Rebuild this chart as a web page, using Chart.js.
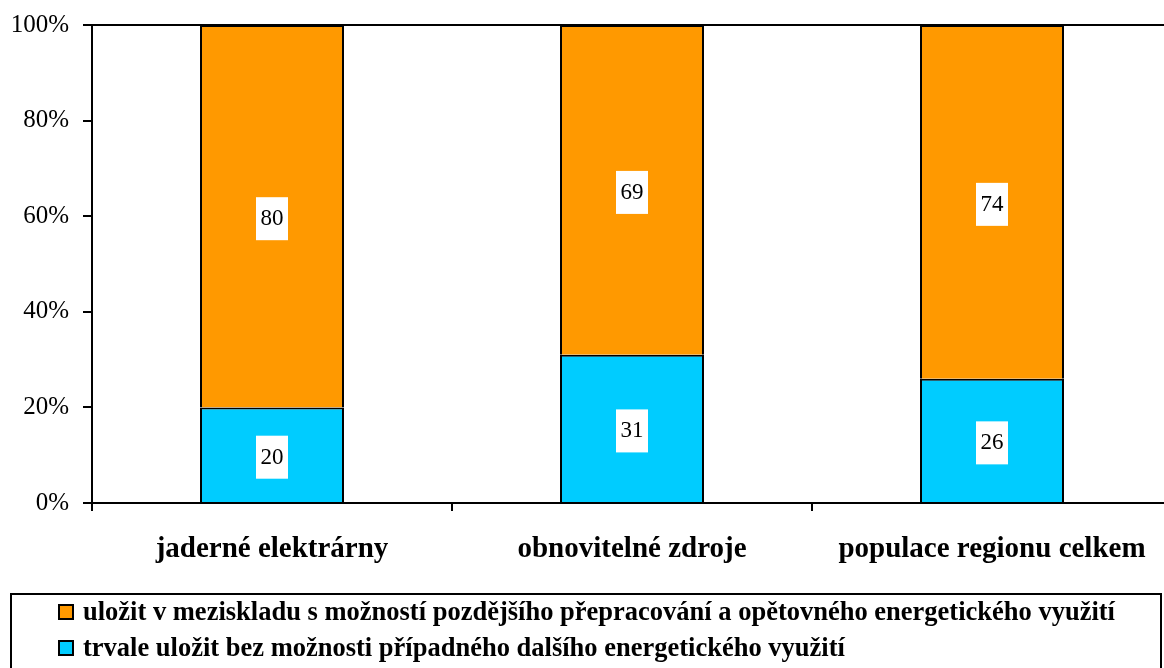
<!DOCTYPE html>
<html>
<head>
<meta charset="utf-8">
<script src="https://cdn.jsdelivr.net/npm/chart.js@4.4.1/dist/chart.umd.min.js"></script>
<style>
  html, body { margin: 0; padding: 0; background: #fff; overflow: hidden; }
  #wrap { width: 1180px; height: 668px; }
</style>
</head>
<body>
<div id="wrap"><canvas id="chart"></canvas></div>
<script>
const categories = ['jaderné elektrárny', 'obnovitelné zdroje', 'populace regionu celkem'];
const permanent = [20, 31, 26];
const interim = [80, 69, 74];
const yTicks = [0, 20, 40, 60, 80, 100];

const serif = '"Liberation Serif", "Times New Roman", serif';

// white boxes with the value in each segment
const valueLabels = {
    id: 'valueLabels',
    afterDatasetsDraw(chart) {
        const ctx = chart.ctx;
        ctx.save();
        ctx.font = '23px ' + serif;
        ctx.textAlign = 'center';
        ctx.textBaseline = 'middle';
        chart.data.datasets.forEach((ds, i) => {
            chart.getDatasetMeta(i).data.forEach((bar, j) => {
                const cy = (bar.y + bar.base) / 2 + 2;
                ctx.fillStyle = '#fff';
                ctx.fillRect(bar.x - 16, cy - 21, 32, 43);
                ctx.fillStyle = '#000';
                ctx.fillText(String(ds.data[j]), bar.x, cy + 1);
            });
        });
        ctx.restore();
    }
};

// top border line and the boxed legend below the chart
const frameAndLegend = {
    id: 'frameAndLegend',
    afterDraw(chart) {
        const ctx = chart.ctx;
        const a = chart.chartArea;
        ctx.save();
        ctx.strokeStyle = '#000';
        ctx.lineWidth = 2;
        ctx.beginPath();
        ctx.moveTo(a.left, a.top);
        ctx.lineTo(a.right, a.top);
        ctx.stroke();

        ctx.strokeRect(11, 594, 1150, 100);

        const items = chart.data.datasets.slice().reverse();
        ctx.font = 'bold 26.5px ' + serif;
        ctx.textBaseline = 'middle';
        ctx.textAlign = 'left';
        items.forEach((ds, k) => {
            const y = 612 + k * 36;
            ctx.fillStyle = ds.backgroundColor;
            ctx.fillRect(59, y - 7, 14, 14);
            ctx.lineWidth = 2;
            ctx.strokeRect(59, y - 7, 14, 14);
            ctx.fillStyle = '#000';
            ctx.fillText(ds.label, 83, y + 1);
        });
        ctx.restore();
    }
};

new Chart(document.getElementById('chart'), {
    type: 'bar',
    data: {
        labels: categories,
        datasets: [
            {
                label: 'trvale uložit bez možnosti případného dalšího energetického využití',
                data: permanent,
                backgroundColor: '#00CCFF',
                borderColor: '#000',
                borderWidth: 2,
                categoryPercentage: 1,
                barPercentage: 0.4
            },
            {
                label: 'uložit v meziskladu s možností pozdějšího přepracování a opětovného energetického využití',
                data: interim,
                backgroundColor: '#FF9900',
                borderColor: '#000',
                borderWidth: 2,
                categoryPercentage: 1,
                barPercentage: 0.4
            }
        ]
    },
    options: {
        responsive: true,
        maintainAspectRatio: false,
        animation: false,
        layout: { padding: { top: 0, right: 8, left: 0, bottom: 0 } },
        plugins: {
            legend: { display: false },
            tooltip: { enabled: false }
        },
        scales: {
            x: {
                stacked: true,
                afterFit(scale) { scale.height = 165; },
                border: { color: '#000', width: 2 },
                grid: {
                    offset: true,
                    drawOnChartArea: false,
                    color: '#000',
                    lineWidth: 2,
                    tickLength: 8
                },
                ticks: {
                    color: '#000',
                    padding: 21,
                    font: { family: serif, size: 29, weight: 'bold' }
                }
            },
            y: {
                stacked: true,
                min: 0,
                max: 100,
                afterFit(scale) { scale.width = 92; },
                afterBuildTicks(scale) { scale.ticks = yTicks.map(v => ({ value: v })); },
                border: { color: '#000', width: 2 },
                grid: {
                    drawOnChartArea: false,
                    color: '#000',
                    lineWidth: 2,
                    tickLength: 9
                },
                ticks: {
                    color: '#000',
                    padding: 14,
                    font: { family: serif, size: 25, lineHeight: 0.88 },
                    callback: v => v + '%'
                }
            }
        }
    },
    plugins: [valueLabels, frameAndLegend]
});
</script>
</body>
</html>
